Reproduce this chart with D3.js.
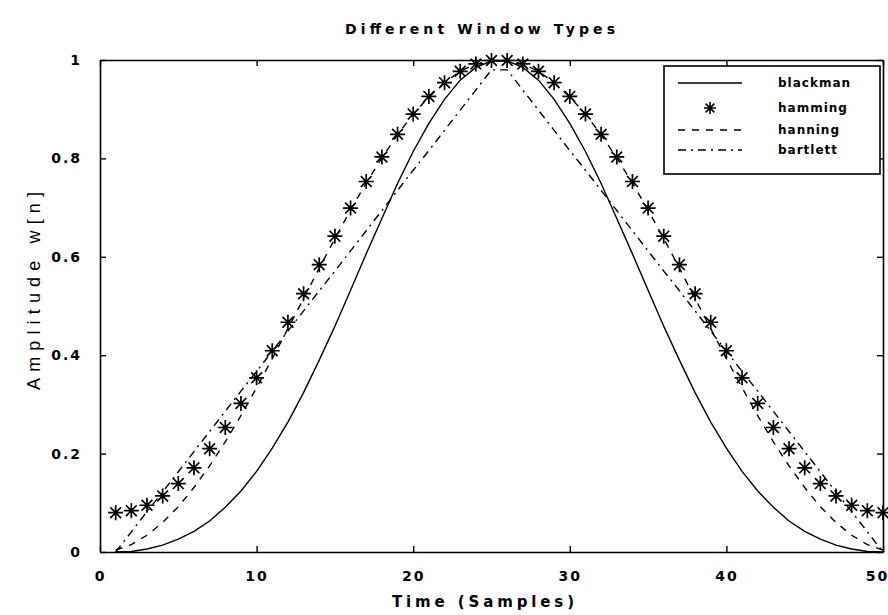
<!DOCTYPE html>
<html>
<head>
<meta charset="utf-8">
<script src="https://cdn.jsdelivr.net/npm/d3@7"></script>
<style>
  body { margin: 0; background: #fff; }
  text { font-family: "DejaVu Sans", sans-serif; fill: #000; }
</style>
</head>
<body>
<svg id="chart"></svg>
<script>
// sample index 1..50
const samples = d3.range(1, 51);

// values
const blackman = [0.000, 0.001, 0.006, 0.014, 0.026, 0.042, 0.063, 0.091, 0.124, 0.164,
  0.211, 0.264, 0.324, 0.390, 0.459, 0.532, 0.606, 0.678, 0.749, 0.814,
  0.871, 0.920, 0.959, 0.985, 0.998, 0.998, 0.985, 0.959, 0.920, 0.871,
  0.814, 0.749, 0.678, 0.606, 0.532, 0.459, 0.390, 0.324, 0.264, 0.211,
  0.164, 0.124, 0.091, 0.063, 0.042, 0.026, 0.014, 0.006, 0.001, 0.000];
const hamming = [0.080, 0.084, 0.095, 0.114, 0.139, 0.171, 0.210, 0.253, 0.302, 0.354,
  0.409, 0.467, 0.525, 0.584, 0.642, 0.699, 0.753, 0.803, 0.849, 0.890,
  0.926, 0.954, 0.977, 0.992, 0.999, 0.999, 0.992, 0.977, 0.954, 0.926,
  0.890, 0.849, 0.803, 0.753, 0.699, 0.642, 0.584, 0.525, 0.467, 0.409,
  0.354, 0.302, 0.253, 0.210, 0.171, 0.139, 0.114, 0.095, 0.084, 0.080];
const hanning = [0.004, 0.015, 0.034, 0.060, 0.092, 0.131, 0.175, 0.224, 0.277, 0.334,
  0.393, 0.454, 0.515, 0.577, 0.637, 0.695, 0.750, 0.801, 0.848, 0.890,
  0.925, 0.954, 0.977, 0.992, 0.999, 0.999, 0.992, 0.977, 0.954, 0.925,
  0.890, 0.848, 0.801, 0.750, 0.695, 0.637, 0.577, 0.515, 0.454, 0.393,
  0.334, 0.277, 0.224, 0.175, 0.131, 0.092, 0.060, 0.034, 0.015, 0.004];
const bartlett = [0.000, 0.041, 0.082, 0.122, 0.163, 0.204, 0.245, 0.286, 0.327, 0.367,
  0.408, 0.449, 0.490, 0.531, 0.571, 0.612, 0.653, 0.694, 0.735, 0.776,
  0.816, 0.857, 0.898, 0.939, 0.980, 0.980, 0.939, 0.898, 0.857, 0.816,
  0.776, 0.735, 0.694, 0.653, 0.612, 0.571, 0.531, 0.490, 0.449, 0.408,
  0.367, 0.327, 0.286, 0.245, 0.204, 0.163, 0.122, 0.082, 0.041, 0.000];

const seriesNames = ['blackman', 'hamming', 'hanning', 'bartlett'];
const xTicks = [0, 10, 20, 30, 40, 50];
const yTicks = [0, 0.2, 0.4, 0.6, 0.8, 1];
const yTickLabels = ['0', '0.2', '0.4', '0.6', '0.8', '1'];

const width = 888;
const height = 615;
const plot = { left: 100, right: 883, top: 60, bottom: 552 };

const svg = d3.select('#chart')
  .attr('width', width)
  .attr('height', height)
  .attr('viewBox', '0 0 ' + width + ' ' + height);

const x = d3.scaleLinear().domain([0, 50]).range([plot.left, plot.right]);
const y = d3.scaleLinear().domain([0, 1]).range([plot.bottom, plot.top]);

// axes, ticks pointing inwards on all four sides
const axisStyle = (g) => {
  g.selectAll('path.domain').attr('stroke', '#000').attr('stroke-width', 1.6);
  g.selectAll('.tick line').attr('stroke', '#000').attr('stroke-width', 1.4);
  g.selectAll('.tick text')
    .style('font-family', '"DejaVu Sans", sans-serif')
    .style('font-size', '14px')
    .style('font-weight', 'bold')
    .style('letter-spacing', '2px')
    .attr('fill', '#000');
};

const xAxis = svg.append('g')
  .attr('transform', 'translate(0,' + plot.bottom + ')')
  .call(d3.axisBottom(x).tickValues(xTicks).tickSize(-6).tickSizeOuter(0).tickPadding(19))
  .call(axisStyle);
// last label sits on the right edge, nudge it inside the page
xAxis.selectAll('.tick text').filter((d) => d === 50).attr('dx', -6);

svg.append('g')
  .attr('transform', 'translate(0,' + plot.top + ')')
  .call(d3.axisTop(x).tickValues(xTicks).tickSize(-6).tickSizeOuter(0).tickFormat(''))
  .call(axisStyle);

svg.append('g')
  .attr('transform', 'translate(' + plot.left + ',0)')
  .call(d3.axisLeft(y).tickValues(yTicks).tickSize(-6).tickSizeOuter(0).tickPadding(18)
    .tickFormat((d, i) => yTickLabels[i]))
  .call(axisStyle);

svg.append('g')
  .attr('transform', 'translate(' + plot.right + ',0)')
  .call(d3.axisRight(y).tickValues(yTicks).tickSize(-6).tickSizeOuter(0).tickFormat(''))
  .call(axisStyle);

// curves
const line = d3.line()
  .x((d, i) => x(samples[i]))
  .y((d) => y(d));

const dashes = { blackman: null, hanning: '7,7', bartlett: '8,5,2,5' };

[['blackman', blackman], ['hanning', hanning], ['bartlett', bartlett]].forEach(([name, values]) => {
  svg.append('path')
    .datum(values)
    .attr('fill', 'none')
    .attr('stroke', '#000')
    .attr('stroke-width', 1.4)
    .attr('stroke-dasharray', dashes[name])
    .attr('d', line);
});

// star marker: a plus and an x
const star = (r) => {
  const d = r * 0.72;
  return 'M' + (-r) + ',0H' + r + 'M0,' + (-r) + 'V' + r +
    'M' + (-d) + ',' + (-d) + 'L' + d + ',' + d +
    'M' + (-d) + ',' + d + 'L' + d + ',' + (-d);
};

svg.append('g')
  .selectAll('path')
  .data(hamming)
  .enter()
  .append('path')
  .attr('transform', (d, i) => 'translate(' + x(samples[i]) + ',' + y(d) + ')')
  .attr('d', star(7.5))
  .attr('fill', 'none')
  .attr('stroke', '#000')
  .attr('stroke-width', 1.7);

// legend
const legend = svg.append('g');
legend.append('rect')
  .attr('x', 664).attr('y', 66)
  .attr('width', 216).attr('height', 108)
  .attr('fill', '#fff')
  .attr('stroke', '#000')
  .attr('stroke-width', 1.6);

const legendRows = [83, 108, 130, 150];
seriesNames.forEach((name, i) => {
  const ly = legendRows[i];
  if (name === 'hamming') {
    legend.append('path')
      .attr('transform', 'translate(710,' + ly + ')')
      .attr('d', star(6))
      .attr('fill', 'none')
      .attr('stroke', '#000')
      .attr('stroke-width', 1.6);
  } else {
    legend.append('line')
      .attr('x1', 678).attr('x2', 742)
      .attr('y1', ly).attr('y2', ly)
      .attr('stroke', '#000')
      .attr('stroke-width', 1.6)
      .attr('stroke-dasharray', dashes[name]);
  }
  legend.append('text')
    .attr('x', 778)
    .attr('y', ly + 4)
    .style('font-size', '12px')
    .style('font-weight', 'bold')
    .style('letter-spacing', '1px')
    .text(name);
});

// titles
svg.append('text')
  .attr('x', 480)
  .attr('y', 34)
  .attr('text-anchor', 'middle')
  .attr('textLength', 270)
  .attr('lengthAdjust', 'spacing')
  .style('font-size', '14px')
  .style('font-weight', 'bold')
  .text('Different Window Types');

svg.append('text')
  .attr('x', 483)
  .attr('y', 607)
  .attr('text-anchor', 'middle')
  .attr('textLength', 182)
  .attr('lengthAdjust', 'spacing')
  .style('font-size', '15px')
  .style('font-weight', 'bold')
  .text('Time (Samples)');

svg.append('text')
  .attr('transform', 'translate(40,291) rotate(-90)')
  .attr('text-anchor', 'middle')
  .attr('textLength', 198)
  .attr('lengthAdjust', 'spacing')
  .style('font-family', '"Liberation Sans", Arial, sans-serif')
  .style('font-size', '18px')
  .text('Amplitude w[n]');
</script>
</body>
</html>
